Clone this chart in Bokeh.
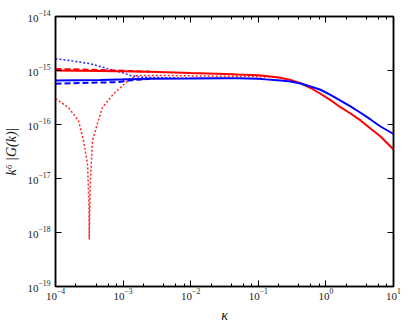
from bokeh.plotting import figure
from bokeh.models import Range1d, LogAxis, LogTicker, CustomJSTickFormatter
from bokeh.embed import file_html
from bokeh.resources import INLINE

# ---- data ----
kappa_main = [1e-4, 4.6e-4, 2.5e-3, 1e-2, 3.3e-2, 0.05, 0.1, 0.128, 0.213, 0.299, 0.421, 0.592,
              0.832, 1.17, 1.644, 2.31, 3.25, 4.57, 6.43, 10.0]
red_solid = [1.0e-15, 9.8e-16, 9.5e-16, 9.0e-16, 8.6e-16, 8.4e-16, 8.15e-16, 7.95e-16, 7.33e-16,
             6.67e-16, 5.82e-16, 4.74e-16, 3.71e-16, 2.82e-16, 2.09e-16, 1.6e-16, 1.19e-16,
             8.43e-17, 6.0e-17, 3.44e-17]
blue_solid = [6.5e-16, 6.7e-16, 7.0e-16, 7.1e-16, 7.2e-16, 7.15e-16, 7.0e-16, 6.85e-16, 6.53e-16,
              6.25e-16, 5.74e-16, 5.06e-16, 4.4e-16, 3.55e-16, 2.78e-16, 2.16e-16, 1.65e-16,
              1.24e-16, 9.18e-17, 6.67e-17]

kappa_red_dashed = [1e-4, 4.6e-4, 1.29e-3, 2.5e-3]
red_dashed = [1.07e-15, 1.02e-15, 9.8e-16, 9.5e-16]

kappa_blue_dashed = [1e-4, 8.3e-4, 1.5e-3, 2.5e-3]
blue_dashed = [5.7e-16, 6.1e-16, 6.7e-16, 7.0e-16]

kappa_blue_dotted = [1e-4, 1.85e-4, 3.3e-4, 5.9e-4, 9.2e-4, 1.29e-3, 1.8e-3, 6e-3, 1.18e-2, 3.3e-2]
blue_dotted = [1.65e-15, 1.49e-15, 1.33e-15, 1.08e-15, 9.3e-16, 8.1e-16, 7.5e-16, 7.3e-16,
               7.2e-16, 7.2e-16]

kappa_red_dotted = [1e-4, 1.55e-4, 2.19e-4, 2.6e-4, 2.97e-4, 3.05e-4, 3.13e-4, 3.16e-4, 3.2e-4,
                    3.27e-4, 3.52e-4, 4.18e-4, 4.95e-4, 6.97e-4, 8.26e-4, 1.29e-3, 1.63e-3,
                    3.57e-3, 1.4e-2, 5.5e-2, 0.15, 0.213]
red_dotted = [3.0e-16, 2.07e-16, 1.17e-16, 5.0e-17, 1.9e-17, 8e-18, 2.5e-18, 7.4e-19, 2.5e-18,
              8e-18, 5.0e-17, 1.05e-16, 2.07e-16, 3.5e-16, 4.3e-16, 7.1e-16, 8.1e-16,
              8.1e-16, 7.9e-16, 7.8e-16, 7.55e-16, 7.33e-16]

x_label = "κ"
y_label = "k⁶ |G(k)|"

FONT = "Liberation Serif"

p = figure(x_axis_type="log", y_axis_type="log",
           x_range=Range1d(1e-4, 10), y_range=Range1d(1e-19, 1e-14),
           width=409, height=327,
           min_border_left=55, min_border_top=16, min_border_right=16, min_border_bottom=41,
           output_backend="svg", toolbar_location=None)

p.background_fill_color = "white"
p.border_fill_color = "white"
p.outline_line_color = "black"
p.outline_line_width = 1.5
p.xgrid.visible = False
p.ygrid.visible = False

# dotted
p.line(kappa_blue_dotted, blue_dotted, color="#0000ff", line_width=1.5, line_dash="2 2", line_alpha=0.85)
p.line(kappa_red_dotted, red_dotted, color="#ff0000", line_width=1.5, line_dash="2 2", line_alpha=0.85)
# dashed
p.line(kappa_red_dashed, red_dashed, color="#ff0000", line_width=2, line_dash="6 3")
p.line(kappa_blue_dashed, blue_dashed, color="#0000ff", line_width=2, line_dash="6 3")
# solid
p.line(kappa_main, red_solid, color="#ff0000", line_width=2)
p.line(kappa_main, blue_solid, color="#0000ff", line_width=2)

def style_axis(ax, minor=True):
    ax.axis_line_color = "black"
    ax.axis_line_width = 1.5
    ax.major_tick_in = 6
    ax.major_tick_out = 0
    ax.major_tick_line_color = "black"
    ax.major_tick_line_width = 1
    if minor:
        ax.minor_tick_in = 3
        ax.minor_tick_out = 0
        ax.minor_tick_line_color = "black"
    else:
        ax.minor_tick_line_color = None
    ax.major_label_text_font = FONT
    ax.major_label_text_font_size = "11px"
    ax.major_label_text_color = "#222222"
    ax.axis_label_text_font = FONT
    ax.axis_label_text_font_style = "italic"
    ax.axis_label_text_font_size = "14px"
    ax.axis_label_text_color = "#111111"

xa = p.xaxis[0]
ya = p.yaxis[0]
xa.ticker = LogTicker(desired_num_ticks=6)
ya.ticker = LogTicker(desired_num_ticks=6)
style_axis(xa, True)
style_axis(ya, False)
xa.axis_label = x_label
ya.axis_label = y_label
xa.major_label_standoff = 2
xa.axis_label_standoff = 5
ya.major_label_standoff = 1
ya.axis_label_standoff = 5

top = LogAxis(ticker=LogTicker(desired_num_ticks=6), formatter=CustomJSTickFormatter(code="return ''"))
right = LogAxis(ticker=LogTicker(desired_num_ticks=6), formatter=CustomJSTickFormatter(code="return ''"))
style_axis(top, True)
style_axis(right, False)
top.major_label_standoff = 0
right.major_label_standoff = 0
p.add_layout(top, "above")
p.add_layout(right, "right")

open("out.html", "w").write(file_html(p, INLINE))
